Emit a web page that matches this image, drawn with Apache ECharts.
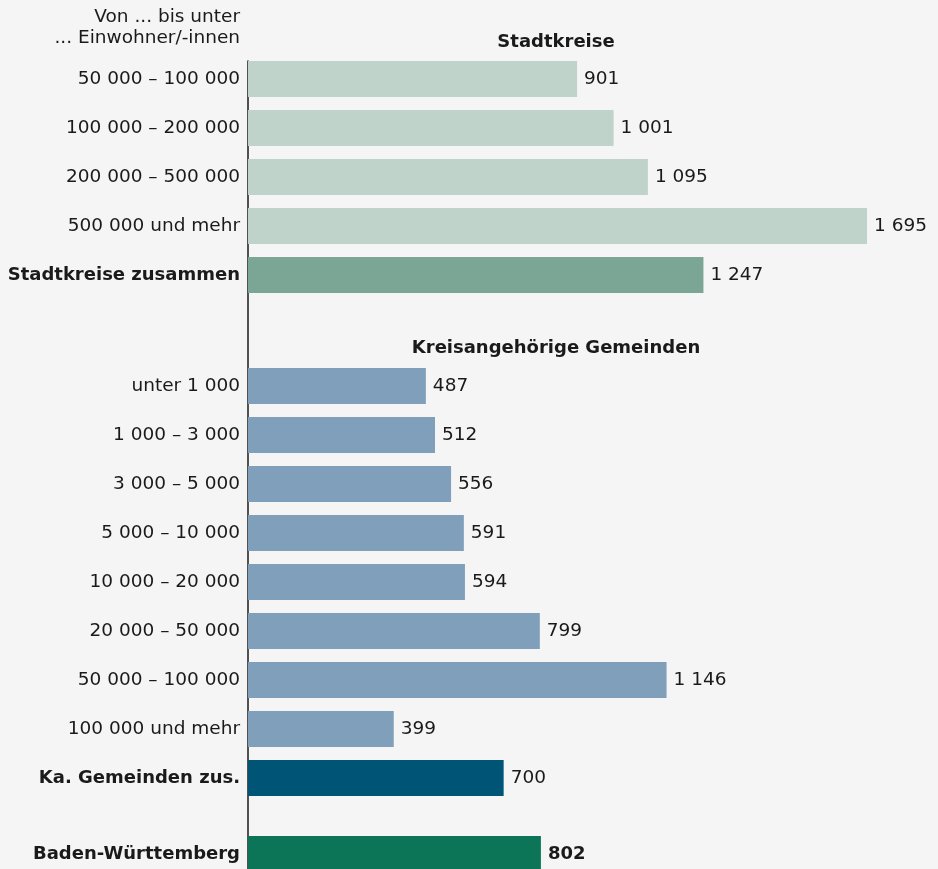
<!DOCTYPE html>
<html>
<head>
<meta charset="utf-8">
<script src="https://cdn.jsdelivr.net/npm/echarts@6/dist/echarts.min.js"></script>
<style>
  html, body { margin: 0; padding: 0; background: #f5f5f5; }
  #chart { width: 938px; height: 869px; }
</style>
</head>
<body>
<div id="chart"></div>
<script>
// Kreisfreie Städte (Stadtkreise) nach Größenklasse
const stadtCategories = ['50 000 – 100 000', '100 000 – 200 000', '200 000 – 500 000', '500 000 und mehr', 'Stadtkreise zusammen'];
const stadtValues = [901, 1001, 1095, 1695, 1247];

// Kreisangehörige Gemeinden nach Größenklasse
const gemCategories = ['unter 1 000', '1 000 – 3 000', '3 000 – 5 000', '5 000 – 10 000', '10 000 – 20 000', '20 000 – 50 000', '50 000 – 100 000', '100 000 und mehr', 'Ka. Gemeinden zus.'];
const gemValues = [487, 512, 556, 591, 594, 799, 1146, 399, 700];

// Land insgesamt
const landCategories = ['Baden-Württemberg'];
const landValues = [802];

const boldLabels = ['Stadtkreise zusammen', 'Ka. Gemeinden zus.', 'Baden-Württemberg'];

const FONT = '"DejaVu Sans", "Liberation Sans", Arial, sans-serif';
const FS = 18.5;      // normaler Text
const FS_B = 18;      // fetter Text
const TEXT = '#1a1a1a';
const X_MAX = 1800;
const PLOT_LEFT = 248;
const PLOT_WIDTH = 657.4;
const BAND = 49;
const H = 869;

function fmt(v) {
  return String(v).replace(/\B(?=(\d{3})+(?!\d))/g, ' ');
}

function catAxis(idx, cats) {
  return {
    type: 'category', gridIndex: idx, data: cats, inverse: true,
    axisLine: { show: false }, axisTick: { show: false },
    axisLabel: {
      margin: 8, color: TEXT, fontFamily: FONT, fontSize: FS,
      formatter: v => boldLabels.includes(v) ? '{b|' + v + '}' : v,
      rich: { b: { fontWeight: 'bold', fontSize: FS_B, fontFamily: FONT, color: TEXT } }
    }
  };
}

function valAxis(idx) {
  return { type: 'value', gridIndex: idx, min: 0, max: X_MAX, show: false };
}

function barSeries(idx, values, colors, boldLabel) {
  return {
    type: 'bar', xAxisIndex: idx, yAxisIndex: idx, barWidth: 36,
    data: values.map((v, i) => ({ value: v, itemStyle: { color: colors[i] } })),
    label: {
      show: true, position: 'right', distance: 7, color: TEXT,
      fontFamily: FONT, fontSize: boldLabel ? FS_B : FS,
      fontWeight: boldLabel ? 'bold' : 'normal',
      formatter: p => fmt(p.value)
    },
    silent: true, animation: false
  };
}

function bandGrid(center, count) {
  const top = center - BAND / 2;
  const height = BAND * count;
  return { left: PLOT_LEFT, width: PLOT_WIDTH, top: top, bottom: H - top - height, outerBoundsMode: 'none' };
}

const chart = echarts.init(document.getElementById('chart'), null, { renderer: 'canvas' });

const stadtColors = stadtValues.map((_, i) => i === stadtValues.length - 1 ? '#7ba594' : '#c0d3cb');
const gemColors = gemValues.map((_, i) => i === gemValues.length - 1 ? '#005576' : '#7f9fba');
const landColors = ['#0c7558'];

chart.setOption({
  backgroundColor: '#f5f5f5',
  animation: false,
  grid: [
    bandGrid(79, stadtCategories.length),
    bandGrid(386, gemCategories.length),
    bandGrid(854, landCategories.length),
    // durchgehende Achsenlinie
    { left: PLOT_LEFT - 0.5, width: PLOT_WIDTH, top: 61, bottom: 0, outerBoundsMode: 'none' }
  ],
  xAxis: [valAxis(0), valAxis(1), valAxis(2),
    { type: 'value', gridIndex: 3, min: 0, max: 1, show: false }],
  yAxis: [catAxis(0, stadtCategories), catAxis(1, gemCategories), catAxis(2, landCategories),
    { type: 'value', gridIndex: 3, min: 0, max: 1,
      axisLine: { show: true, lineStyle: { color: TEXT, width: 1.5 } },
      axisTick: { show: false }, axisLabel: { show: false }, splitLine: { show: false } }],
  series: [
    barSeries(0, stadtValues, stadtColors, false),
    barSeries(1, gemValues, gemColors, false),
    barSeries(2, landValues, landColors, true)
  ],
  graphic: [
    { type: 'text', x: 240, y: 17, style: { text: 'Von ... bis unter', font: FS + 'px ' + FONT, fill: TEXT, align: 'right', verticalAlign: 'middle' } },
    { type: 'text', x: 240, y: 38, style: { text: '... Einwohner/-innen', font: FS + 'px ' + FONT, fill: TEXT, align: 'right', verticalAlign: 'middle' } },
    { type: 'text', x: 556, y: 42, style: { text: 'Stadtkreise', font: 'bold ' + FS_B + 'px ' + FONT, fill: TEXT, align: 'center', verticalAlign: 'middle' } },
    { type: 'text', x: 556, y: 348, style: { text: 'Kreisangehörige Gemeinden', font: 'bold ' + FS_B + 'px ' + FONT, fill: TEXT, align: 'center', verticalAlign: 'middle' } }
  ]
});
</script>
</body>
</html>
